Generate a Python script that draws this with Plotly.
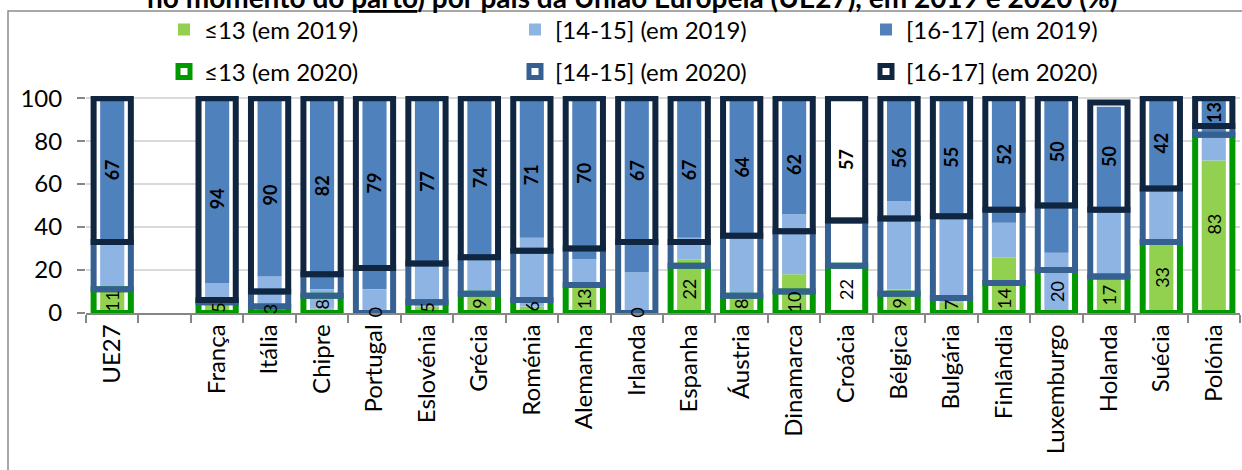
import plotly.graph_objects as go

# Categories on the x axis (a blank slot separates the EU total from the countries)
categories = ["UE27", " ", "França", "Itália", "Chipre", "Portugal", "Eslovénia", "Grécia",
              "Roménia", "Alemanha", "Irlanda", "Espanha", "Áustria", "Dinamarca", "Croácia",
              "Bélgica", "Bulgária", "Finlândia", "Luxemburgo", "Holanda", "Suécia", "Polónia"]

# 2019 shares (%) by age group; None = no value
le13_2019 = [10, None, 4, 1, 2, 1, 3, 8, 3, 12, 0, 25, 7, 18, None, 11, 5, 26, 0, 16, 32, 71]
g1415_2019 = [22, None, 10, 16, 9, 10, 19, 17, 32, 13, 19, 10, 29, 28, None, 41, 40, 16, 28, 32, 25, 11]
g1617_2019 = [68, None, 86, 83, 89, 89, 78, 75, 65, 75, 81, 65, 64, 54, None, 48, 55, 58, 72, 48, 43, 18]

# 2020 shares (%) by age group
le13_2020 = [11, None, 5, 3, 8, 0, 5, 9, 6, 13, 0, 22, 8, 10, 22, 9, 7, 14, 20, 17, 33, 83]
g1415_2020 = [22, None, 1, 7, 10, 21, 18, 17, 23, 17, 33, 11, 28, 28, 21, 35, 38, 34, 30, 31, 25, 4]
g1617_2020 = [67, None, 94, 90, 82, 79, 77, 74, 71, 70, 67, 67, 64, 62, 57, 56, 55, 52, 50, 50, 42, 13]

names_2019 = ["≤13 (em 2019)", "[14-15] (em 2019)", "[16-17] (em 2019)"]
names_2020 = ["≤13 (em 2020)", "[14-15] (em 2020)", "[16-17] (em 2020)"]
fills_2019 = ["#92D050", "#8EB4E3", "#4F81BD"]
lines_2020 = ["#009A00", "#376092", "#10253F"]

W19 = 0.46   # width of the filled 2019 columns
W20 = 0.71   # width of the outlined 2020 columns
LW20 = 6

FONT = "Lato"

# plot-area geometry in pixels (used to place the frame and the heading)
M_L, M_R, M_T, M_B = 86, 2, 96, 157
PW, PH = 1242 - M_L - M_R, 470 - M_T - M_B


def px_to_paper_x(px):
    return (px - M_L) / PW


def px_to_paper_y(py):
    return (470 - M_B - py) / PH


def stack_bases(*series):
    """Cumulative base of each stacked segment."""
    bases = []
    run = [0] * len(series[0])
    for s in series:
        bases.append(list(run))
        run = [r + (v or 0) for r, v in zip(run, s)]
    return bases, run


series_2019 = [le13_2019, g1415_2019, g1617_2019]
series_2020 = [le13_2020, g1415_2020, g1617_2020]
bases_2019, _ = stack_bases(*series_2019)
bases_2020, totals_2020 = stack_bases(*series_2020)

fig = go.Figure()

# white backing of the 2020 columns (hides the gridlines inside them)
fig.add_trace(go.Bar(
    x=categories, y=[t if t else None for t in totals_2020], width=W20,
    marker=dict(color="white", line=dict(width=0)),
    showlegend=False, hoverinfo="skip",
))

# 2019: filled stacked columns
for vals, base, name, col in zip(series_2019, bases_2019, names_2019, fills_2019):
    fig.add_trace(go.Bar(
        x=categories, y=vals, base=base, width=W19, name=name,
        marker=dict(color=col, line=dict(width=0)),
        legend="legend",
    ))

# 2020: outlined stacked columns
for vals, base, name, col in zip(series_2020, bases_2020, names_2020, lines_2020):
    fig.add_trace(go.Bar(
        x=categories, y=vals, base=base, width=W20, name=name,
        marker=dict(color="rgba(0,0,0,0)", line=dict(width=LW20, color=col)),
        legend="legend2",
    ))

# value labels for the 2020 columns (≤13 and [16-17])
annotations = []
for cat, v, b in zip(categories, le13_2020, bases_2020[0]):
    if v is None:
        continue
    annotations.append(dict(x=cat, y=b + v / 2, text=str(v), showarrow=False,
                            textangle=-90, font=dict(family=FONT, size=18, color="black")))
for cat, v, b in zip(categories, g1617_2020, bases_2020[2]):
    if v is None:
        continue
    annotations.append(dict(x=cat, y=b + v / 2, text=f"<b>{v}</b>", showarrow=False,
                            textangle=-90, font=dict(family=FONT, size=18, color="black")))

# heading (its upper part lies above the page edge)
annotations.append(dict(
    xref="paper", yref="paper", x=px_to_paper_x(632), y=px_to_paper_y(-3),
    xanchor="center", yanchor="middle", showarrow=False,
    text="<b>no momento do <span style='text-decoration:underline'>parto</span>) "
         "por país da União Europeia (UE27), em 2019 e 2020 (%)</b>",
    font=dict(family=FONT, size=28, color="black"),
))

legend_common = dict(
    orientation="h", xref="container", yref="container",
    xanchor="left", yanchor="middle",
    entrywidth=306, entrywidthmode="pixels",
    font=dict(family=FONT, size=24, color="black"),
    bgcolor="rgba(0,0,0,0)", borderwidth=0,
)

fig.update_layout(
    width=1242, height=470,
    margin=dict(l=M_L, r=M_R, t=M_T, b=M_B, autoexpand=False),
    barmode="overlay",
    plot_bgcolor="white", paper_bgcolor="white",
    font=dict(family=FONT, size=24, color="black"),
    xaxis=dict(
        type="category", categoryorder="array", categoryarray=categories,
        range=[-0.5, len(categories) - 0.5],
        tickson="boundaries", ticks="outside", ticklen=8, tickwidth=1.5, tickcolor="#868686",
        showline=True, linecolor="#868686", linewidth=1.5,
        tickangle=-90, showgrid=False, automargin=False,
        tickfont=dict(family=FONT, size=24, color="black"),
    ),
    yaxis=dict(
        range=[0, 101], tickvals=[0, 20, 40, 60, 80, 100],
        showgrid=True, gridcolor="#D9D9D9", gridwidth=2,
        ticks="outside", ticklen=8, tickwidth=1.5, tickcolor="#868686",
        showline=False, zeroline=False, automargin=False,
        ticklabelstandoff=10,
        tickfont=dict(family=FONT, size=24, color="black"),
    ),
    legend=dict(x=164 / 1242, y=1 - 30 / 470, **legend_common),
    legend2=dict(x=164 / 1242, y=1 - 72 / 470, **legend_common),
    annotations=annotations,
    shapes=[dict(
        type="rect", xref="paper", yref="paper",
        x0=px_to_paper_x(8), x1=px_to_paper_x(1252),
        y0=px_to_paper_y(480), y1=px_to_paper_y(11),
        line=dict(color="#8C8C8C", width=1.5), fillcolor="rgba(0,0,0,0)", layer="below",
    )],
)

fig.write_html("out.html")
